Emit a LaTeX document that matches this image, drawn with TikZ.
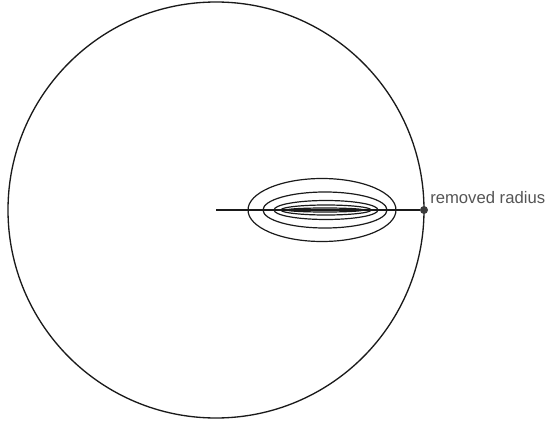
\documentclass[tikz,border=0pt]{standalone}
\usepackage{fontspec}
\setmainfont{Liberation Sans}
\usetikzlibrary{positioning}
\definecolor{Ink}{HTML}{1A1A1A}
\definecolor{LabelGrey}{HTML}{555555}
\tikzset{
    every node/.style={font=\fontsize{12.5}{14}\selectfont},
    outline/.style={draw=Ink, line width=1pt},
    contour/.style={draw=Ink, line width=0.9pt},
    enddot/.style={circle, fill=Ink!85, minimum size=6pt, inner sep=0pt},
}

\begin{document}
\begin{tikzpicture}[x=0.75pt, y=-0.75pt]
    \useasboundingbox (0,0) rectangle (547,421);

    % Disc
    \draw[outline] (216,210) circle [radius=156pt];

    % Centre and end of the removed radius
    \coordinate (ctr) at (216,210);
    \node[enddot] (dot) at (424,210) {};
    \draw[outline] (ctr) -- (dot);
    \node[text=LabelGrey, anchor=base west, inner sep=0pt] (lbl) at (430,203) {removed radius};

    % Nested ellipses round the radius
    \foreach \cx/\a/\b in {322/74/31.5, 325/62/18, 326/52/9.5, 326/45/5, 325/38/2}
        \draw[contour] (\cx,210) ellipse [x radius=\a*0.75pt, y radius=\b*0.75pt];
\end{tikzpicture}
\end{document}
